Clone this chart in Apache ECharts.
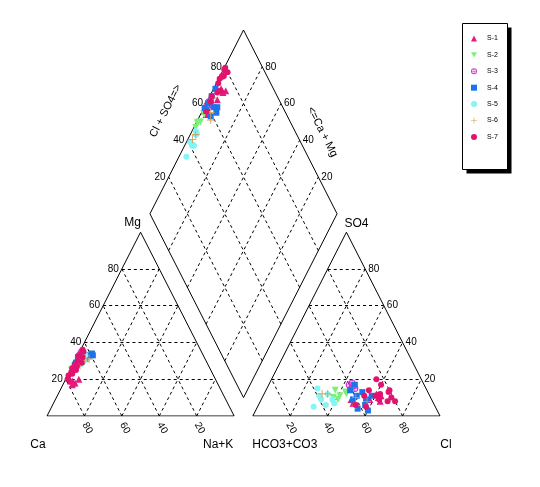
<!DOCTYPE html>
<html>
<head>
<meta charset="utf-8">
<script src="https://cdn.jsdelivr.net/npm/echarts@6/dist/echarts.min.js"></script>
<style>
html,body{margin:0;padding:0;background:#fff;}
#main{width:540px;height:487px;}
</style>
</head>
<body>
<div id="main"></div>
<script>
// sample names and per-sample percentages (meq %), Ca = 100-Mg-Na, HCO3 = 100-SO4-Cl
var sampleNames=['S-1','S-2','S-3','S-4','S-5','S-6','S-7'];
var tickValues=[20,40,60,80];
var mgPct=[
	[17,18,19,20,18,21,19],
	[27,28,25,29,26,30],
	[34,33,35,32],
	[33,32,34,30,28,31,33,29,27,32],
	[28,30,31,29,32,33,30,27],
	[27,26,31,33,30],
	[36,35,33,32,30,29,28,27,26,25,24,23,22,20]
];
var naPct=[
	[5,6,4,7,5,1,3],
	[1,2,0.5,1.5,1,2],
	[1,2,1,1.5],
	[6,1,7,2,1,5,8,1,2,0.5],
	[4,5,3,4.5,2,4,3,2],
	[2.5,3,7,2,5],
	[1,2,0.5,3,1.5,4,1,2.5,0.5,3,1,2,0.5,1]
];
var so4Pct=[
	[10,12,8,11,9,7,9],
	[14,11,9,13,10,12],
	[17,16,18,15],
	[14,11,9,3,11,17,6,13,9,4],
	[11,6,9,15,9,5,12,7],
	[12,12,6,8,10],
	[20,17,13,8,8,11,11,6,12,14,9,5,14,10]
];
var clPct=[
	[62,60,64,63,58,50,48],
	[37,41,41,43,38,44],
	[43,45,44,47],
	[45,50,56,60,58,46,57,52,49,54],
	[30,36,38,27,32,30,34,40],
	[31,34,52,57,50],
	[56,60,66,72,68,60,54,52,62,55,63,58,66,69]
];
var sampleColors=['#E8197D','#7EF07A','#CC33CC','#1C74E8','#82F5F5','#D49A4A','#E2136F'];
var sampleSymbols=[
	'triangle',
	'path://M0,0 L20,0 L10,18 Z',
	'path://M10,0 A10,10 0 1 1 10,20 A10,10 0 1 1 10,0 Z M10,3 A7,7 0 1 0 10,17 A7,7 0 1 0 10,3 Z M9,0 L11,0 L11,20 L9,20 Z M0,9 L20,9 L20,11 L0,11 Z',
	'rect',
	'circle',
	'path://M9,0 L11,0 L11,9 L20,9 L20,11 L11,11 L11,20 L9,20 L9,11 L0,11 L0,9 L9,9 Z',
	'circle'
];
var sampleSizes=[7,7,7,6,6,8,6];

var R3=Math.sqrt(3)/2;
var GAP=10;
var AX=100+GAP; // anion triangle offset
//cation triangle: Ca left, Na+K right, Mg top
function catPt(mg,na){ return [na+mg/2, mg*R3]; }
function anPt(so4,cl){ return [AX+cl+so4/2, so4*R3]; }
function diaPt(p,q){ return [100+GAP/2+50*(q-p), GAP*R3+100*R3*(p+q)]; }

var outline=[], grid=[];
outline.push({coords:[[0,0],[100,0],[50,100*R3],[0,0]]});
outline.push({coords:[[AX,0],[AX+100,0],[AX+50,100*R3],[AX,0]]});
outline.push({coords:[diaPt(0,0),diaPt(1,0),diaPt(1,1),diaPt(0,1),diaPt(0,0)]});
[0,AX].forEach(function(ox){
	tickValues.forEach(function(k){
		grid.push({coords:[[ox+k/2,k*R3],[ox+100-k/2,k*R3]]});
		grid.push({coords:[[ox+k,0],[ox+k+(100-k)/2,(100-k)*R3]]});
		grid.push({coords:[[ox+k,0],[ox+k/2,k*R3]]});
	});
});
tickValues.forEach(function(k){
	grid.push({coords:[diaPt(0,k/100),diaPt(1,k/100)]});
	grid.push({coords:[diaPt(k/100,0),diaPt(k/100,1)]});
});

var series=[
	{type:'lines',coordinateSystem:'cartesian2d',polyline:true,silent:true,z:1,
	 lineStyle:{color:'#000',width:1,opacity:1},data:outline},
	{type:'lines',coordinateSystem:'cartesian2d',silent:true,z:1,
	 lineStyle:{color:'#000',width:1,type:[3,3],opacity:1},data:grid}
];
sampleNames.forEach(function(nm,i){
	var pts=[];
	for(var j=0;j<mgPct[i].length;j++){
		var mg=mgPct[i][j],na=naPct[i][j],so4=so4Pct[i][j],cl=clPct[i][j];
		pts.push(catPt(mg,na));
		pts.push(anPt(so4,cl));
		pts.push(diaPt(1-na/100,(so4+cl)/100));
	}
	series.push({
		name:nm,type:'scatter',z:3,
		symbol:sampleSymbols[i],symbolSize:sampleSizes[i],
		itemStyle:{color:sampleColors[i],opacity:1},
		data:pts
	});
});

var option={
	animation:false,
	backgroundColor:'#fff',
	grid:{left:47,right:100,top:30,bottom:71},
	xAxis:{type:'value',min:0,max:200+GAP,show:false},
	yAxis:{type:'value',min:0,max:(200+GAP)*R3,show:false},
	legend:{
		data:sampleNames,orient:'vertical',left:466,top:30,
		itemWidth:6,itemHeight:6,itemGap:9.4,selectedMode:false,
		textStyle:{fontSize:7,lineHeight:6,fontFamily:'Liberation Sans',color:'#000',padding:[0,0,0,5]}
	},
	series:series
};

var chart=echarts.init(document.getElementById('main'));
chart.setOption(option);

function px(pt){ return chart.convertToPixel({gridIndex:0},pt); }
var g=[];
// legend box with shadow
g.push({type:'rect',z:0,shape:{x:466.5,y:27.5,width:45,height:146},style:{fill:'#000'}});
g.push({type:'rect',z:0,shape:{x:462.5,y:23.5,width:45,height:146},style:{fill:'#fff',stroke:'#000',lineWidth:1}});
function addText(pt,dx,dy,txt,size,align,rot){
	var p=px(pt);
	g.push({type:'text',z:5,x:p[0]+dx,y:p[1]+dy,rotation:rot||0,
		style:{text:txt,fontSize:size,fontFamily:'Liberation Sans',fill:'#000',align:align||'center',verticalAlign:'middle'}});
}
tickValues.forEach(function(k){
	addText([k,0],3,12,String(100-k),10,'center',-Math.PI/3);
	addText([AX+k,0],1,12,String(k),10,'center',-Math.PI/3);
	addText([k/2,k*R3],-3,0,String(k),10,'right');
	addText([AX+100-k/2,k*R3],3,0,String(k),10,'left');
	addText(diaPt(1,k/100),-3,0,String(k),10,'right');
	addText(diaPt(k/100,1),3,0,String(k),10,'left');
});
addText([50,100*R3],-8,-10,'Mg',12);
addText([0,0],-9,29,'Ca',12);
addText([100,0],-16,29,'Na+K',12);
addText([AX+50,100*R3],10,-9,'SO4',12);
addText([AX,0],32,29,'HCO3+CO3',12);
addText([AX+100,0],6,29,'Cl',12);
var ang=Math.atan2(183.8,93.6);
addText(diaPt(1,0.5),-31,-11,'Cl + SO4=>',11,'center',ang);
addText(diaPt(0.5,1),32,10,'<=Ca + Mg',11,'center',-ang);
chart.setOption({graphic:g});
</script>
</body>
</html>
